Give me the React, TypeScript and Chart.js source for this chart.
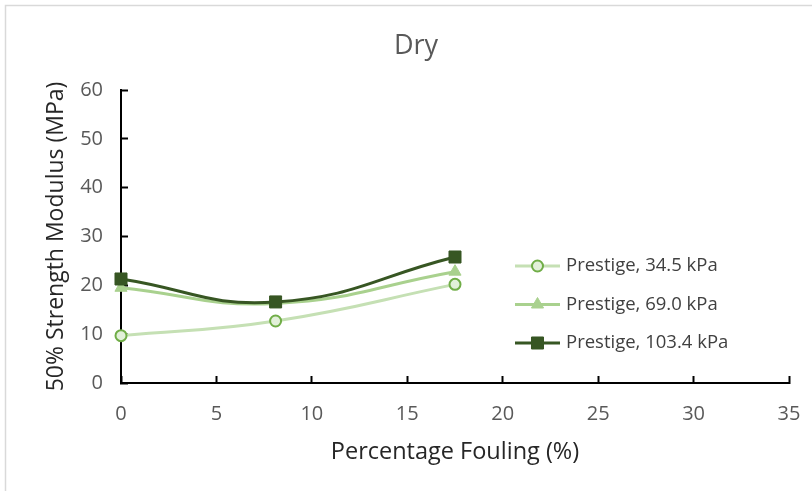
import React, { useEffect, useRef } from "react";
import { Chart, registerables } from "chart.js";
import { drawPoint } from "chart.js/helpers";

Chart.register(...registerables);

// Percentage fouling (%) for each test
const foulingPct = [0, 8.1, 17.5];

// 50% strength modulus (MPa) per confining pressure
const modulus345 = [9.7, 12.7, 20.2];
const modulus690 = [19.5, 16.3, 22.8];
const modulus1034 = [21.3, 16.6, 25.8];

const seriesLabels = ["Prestige, 34.5 kPa", "Prestige, 69.0 kPa", "Prestige, 103.4 kPa"];

const xTicks = [0, 5, 10, 15, 20, 25, 30, 35];
const yTicks = [0, 10, 20, 30, 40, 50, 60];

const FONT = "'Open Sans', 'Noto Sans', sans-serif";

const toPoints = (ys: number[]) => foulingPct.map((x, i) => ({ x, y: ys[i] }));

// Light frame around the chart and white background
const framePlugin = {
  id: "frame",
  beforeDraw(chart: any) {
    const { ctx, width, height } = chart;
    ctx.save();
    ctx.fillStyle = "#ffffff";
    ctx.fillRect(0, 0, width, height);
    ctx.strokeStyle = "#d9d9d9";
    ctx.lineWidth = 1.5;
    ctx.beginPath();
    ctx.moveTo(5.5, height + 2);
    ctx.lineTo(5.5, 5.5);
    ctx.lineTo(width + 2, 5.5);
    ctx.stroke();
    ctx.restore();
  },
};

// Legend drawn inside the plot area, to the right of the data
const insideLegendPlugin = {
  id: "insideLegend",
  afterDraw(chart: any, _args: any, opts: any) {
    const { ctx } = chart;
    const { left, top, rowGap, lineLen, textGap } = opts;
    ctx.save();
    chart.data.datasets.forEach((ds: any, i: number) => {
      const y = top + i * rowGap;
      ctx.strokeStyle = ds.borderColor;
      ctx.lineWidth = ds.borderWidth;
      ctx.beginPath();
      ctx.moveTo(left, y);
      ctx.lineTo(left + lineLen, y);
      ctx.stroke();
      ctx.fillStyle = ds.pointBackgroundColor;
      ctx.strokeStyle = ds.pointBorderColor;
      ctx.lineWidth = ds.pointBorderWidth;
      drawPoint(
        ctx,
        {
          pointStyle: ds.pointStyle,
          radius: ds.pointRadius,
          rotation: 0,
          borderWidth: ds.pointBorderWidth,
        } as any,
        left + lineLen / 2,
        y
      );
      ctx.fillStyle = "#404040";
      ctx.font = `18.5px ${FONT}`;
      ctx.textAlign = "left";
      ctx.textBaseline = "middle";
      ctx.fillText(ds.label, left + lineLen + textGap, y);
    });
    ctx.restore();
  },
};

export default function App() {
  const canvasRef = useRef<HTMLCanvasElement | null>(null);

  useEffect(() => {
    const canvas = canvasRef.current;
    if (!canvas) return;
    const chart = new Chart(canvas, {
      type: "line",
      data: {
        datasets: [
          {
            label: seriesLabels[0],
            data: toPoints(modulus345),
            borderColor: "#c5e0b4",
            borderWidth: 3,
            pointStyle: "circle",
            pointRadius: 5.5,
            pointBackgroundColor: "#e2f0d9",
            pointBorderColor: "#70ad47",
            pointBorderWidth: 2,
            tension: 0.45,
            order: 2,
            clip: false,
          },
          {
            label: seriesLabels[1],
            data: toPoints(modulus690),
            borderColor: "#a9d18e",
            borderWidth: 3,
            pointStyle: "triangle",
            pointRadius: 7,
            pointBackgroundColor: "#a9d18e",
            pointBorderColor: "#a9d18e",
            pointBorderWidth: 1,
            tension: 0.45,
            order: 1,
            clip: false,
          },
          {
            label: seriesLabels[2],
            data: toPoints(modulus1034),
            borderColor: "#375623",
            borderWidth: 3,
            pointStyle: "rect",
            pointRadius: 8.5,
            pointBackgroundColor: "#375623",
            pointBorderColor: "#375623",
            pointBorderWidth: 1,
            tension: 0.45,
            order: 0,
            clip: false,
          },
        ] as any,
      },
      options: {
        animation: false,
        responsive: false,
        maintainAspectRatio: false,
        layout: { padding: { left: 43, right: 23, top: 0, bottom: 0 } },
        plugins: {
          legend: { display: false },
          tooltip: { enabled: false },
          title: {
            display: true,
            text: "Dry",
            color: "#595959",
            font: { family: FONT, size: 27, weight: "normal", lineHeight: 1 },
            padding: { top: 32.5, bottom: 30.5 },
          },
          insideLegend: { left: 515, top: 266, rowGap: 38.5, lineLen: 45, textGap: 6 },
        } as any,
        scales: {
          x: {
            type: "linear",
            min: xTicks[0],
            max: xTicks[xTicks.length - 1],
            afterBuildTicks: (scale: any) => {
              scale.ticks = xTicks.map((v) => ({ value: v }));
            },
            afterFit: (scale: any) => {
              scale.height = 108;
            },
            grid: {
              drawOnChartArea: false,
              drawTicks: true,
              tickLength: -7,
              tickWidth: 2,
              tickColor: "#000000",
            },
            border: { display: true, color: "#000000", width: 2 },
            ticks: {
              color: "#595959",
              font: { family: FONT, size: 20, lineHeight: 2.7 },
              padding: 11,
              maxRotation: 0,
            },
            title: {
              display: true,
              text: "Percentage Fouling (%)",
              color: "#262626",
              font: { family: FONT, size: 23.5 },
              padding: { top: 0, bottom: 25 },
            },
          },
          y: {
            type: "linear",
            min: yTicks[0],
            max: yTicks[yTicks.length - 1],
            afterBuildTicks: (scale: any) => {
              scale.ticks = yTicks.map((v) => ({ value: v }));
            },
            afterFit: (scale: any) => {
              scale.width = 78;
            },
            grid: {
              drawOnChartArea: false,
              drawTicks: true,
              tickLength: -7,
              tickWidth: 2,
              tickColor: "#000000",
            },
            border: { display: true, color: "#000000", width: 2 },
            ticks: {
              color: "#595959",
              font: { family: FONT, size: 20 },
              padding: 25,
            },
            title: {
              display: true,
              text: "50% Strength Modulus (MPa)",
              color: "#262626",
              font: { family: FONT, size: 23 },
              padding: { top: 0, bottom: 0 },
            },
          },
        },
      } as any,
      plugins: [framePlugin, insideLegendPlugin],
    });
    return () => chart.destroy();
  }, []);

  return (
    <div style={{ position: "fixed", left: 0, top: 0, width: 812, height: 491, overflow: "hidden" }}>
      <canvas ref={canvasRef} width={812} height={491} style={{ display: "block" }} />
    </div>
  );
}
